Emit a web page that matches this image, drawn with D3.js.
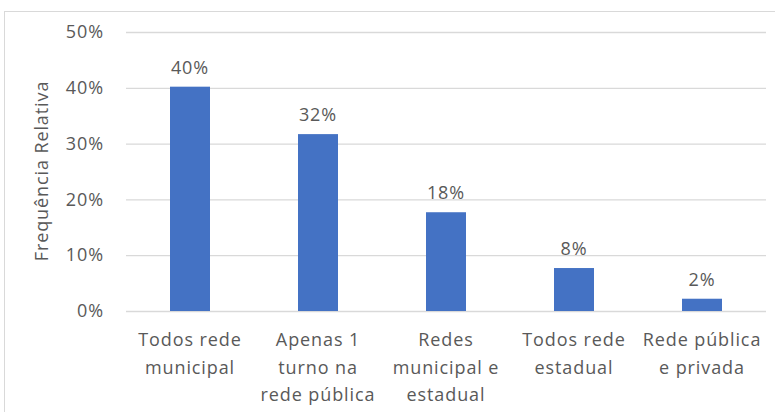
<!DOCTYPE html>
<html><head><meta charset="utf-8">
<script src="https://cdn.jsdelivr.net/npm/d3@7"></script>
<style>
html,body{margin:0;padding:0;background:#fff;}
svg{display:block;}
text{font-family:"Open Sans",sans-serif;fill:#595959;letter-spacing:0.9px;}
</style></head>
<body>
<svg id="c" width="775" height="412"></svg>
<script>
const categories = [
  ["Todos rede", "municipal"],
  ["Apenas 1", "turno na", "rede pública"],
  ["Redes", "municipal e", "estadual"],
  ["Todos rede", "estadual"],
  ["Rede pública", "e privada"]
];
const values = [0.402, 0.317, 0.177, 0.077, 0.022];
const valueLabels = ["40%", "32%", "18%", "8%", "2%"];
const yTicks = [0, 0.1, 0.2, 0.3, 0.4, 0.5];
const yTitle = "Frequência Relativa";

const svg = d3.select("#c");
const W = 775, H = 412;
const m = {left:126, right:9, top:32, bottom:101};
const pw = W - m.left - m.right, ph = H - m.top - m.bottom;
const FS = 18;

// chart border
svg.append("rect").attr("x",4.5).attr("y",11.5).attr("width",W).attr("height",H)
  .attr("fill","none").attr("stroke","#d9d9d9").attr("stroke-width",1);

const g = svg.append("g").attr("transform",`translate(${m.left},${m.top})`);
const x = d3.scaleBand().domain(d3.range(values.length)).range([0,pw]).paddingInner(0.6875).paddingOuter(0.34375);
const y = d3.scaleLinear().domain([0,0.5]).range([ph,0]);

// gridlines + y axis
const yAxis = d3.axisLeft(y).tickValues(yTicks).tickFormat(d3.format(".0%")).tickSize(-pw).tickPadding(22);
const ya = g.append("g").call(yAxis);
ya.select(".domain").remove();
ya.selectAll(".tick line").attr("stroke","#d9d9d9").attr("stroke-width",1.3);
ya.selectAll(".tick text").attr("font-size",FS).attr("fill","#595959").attr("font-family","Open Sans, sans-serif");

// bars
g.selectAll("rect.bar").data(values).join("rect").attr("class","bar")
  .attr("x",(d,i)=>x(i)).attr("width",x.bandwidth())
  .attr("y",d=>y(d)).attr("height",d=>ph - y(d))
  .attr("fill","#4472C4");

// value labels
g.selectAll("text.val").data(values).join("text").attr("class","val")
  .attr("x",(d,i)=>x(i)+x.bandwidth()/2).attr("y",d=>y(d)-13)
  .attr("text-anchor","middle").attr("font-size",FS).text((d,i)=>valueLabels[i]);

// x axis labels
const xa = g.append("g").attr("transform",`translate(0,${ph})`);
categories.forEach((lines,i)=>{
  const t = xa.append("text").attr("text-anchor","middle").attr("font-size",FS)
    .attr("x",x(i)+x.bandwidth()/2).attr("y",35);
  lines.forEach((l,j)=>t.append("tspan").attr("x",x(i)+x.bandwidth()/2).attr("dy",j===0?0:27.5).text(l));
});

// y title
svg.append("text").attr("transform",`translate(48,171) rotate(-90)`)
  .attr("text-anchor","middle").attr("font-size",FS).text(yTitle);
</script>
</body></html>
